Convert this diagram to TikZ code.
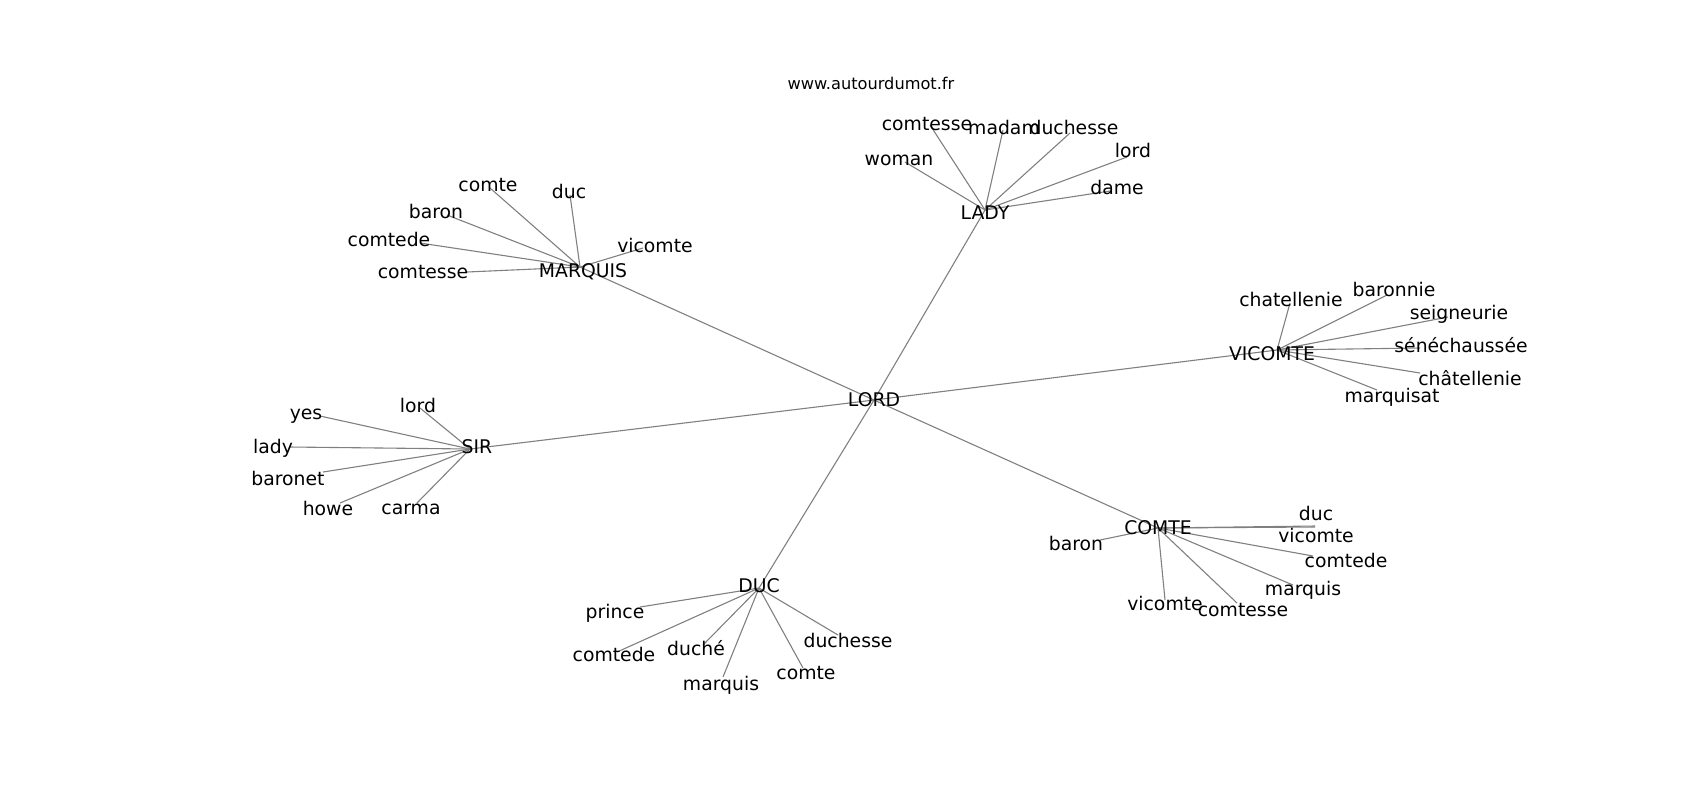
\documentclass[tikz,border=0pt]{standalone}
\usepackage{fontspec}
\setmainfont{DejaVu Sans}
\usetikzlibrary{backgrounds}
\tikzstyle{tree}=[x=0.5pt, y=-0.5pt]
\tikzstyle{nd}=[inner sep=0pt, outer sep=0pt, minimum size=0pt]
\tikzstyle{word}=[inner sep=0pt, font=\fontsize{9.4}{11}\selectfont]
\tikzstyle{edge}=[draw=black!50, line width=0.55pt]

\begin{document}
\begin{tikzpicture}[tree]
	\useasboundingbox (0,0) rectangle (1700,800);
	\draw (871,83) node[word, font=\fontsize{8.1}{10}\selectfont] (site) {www.autourdumot.fr};
	% hubs
	\draw (874,400) node[nd, label={[word]center:LORD}] (lord) {};
	\draw (985,210) node[nd, label={[word, shift={(0pt,-1.5pt)}]center:LADY}] (lady) {};
	\draw (580,267) node[nd, label={[word, shift={(1.5pt,-2.5pt)}]center:MARQUIS}] (marquis) {};
	\draw (1277,350) node[nd, label={[word, shift={(-2.5pt,-2pt)}]center:VICOMTE}] (vicomte) {};
	\draw (470,449) node[nd, label={[word, shift={(3.5pt,1pt)}]center:SIR}] (sir) {};
	\draw (1158,528) node[nd, label={[word]center:COMTE}] (comte) {};
	\draw (759,588) node[nd, label={[word, shift={(0pt,1pt)}]center:DUC}] (duc) {};
	% LADY
	\draw (905,162) node[nd, label={[word, shift={(-3pt,1pt)}]center:woman}] (la1) {};
	\draw (930,125) node[nd, label={[word, shift={(-1.5pt,0.5pt)}]center:comtesse}] (la2) {};
	\draw (1003,130) node[nd, label={[word, shift={(0.5pt,1.5pt)}]center:madam}] (la3) {};
	\draw (1070,133) node[nd, label={[word, shift={(2pt,3pt)}]center:duchesse}] (la4) {};
	\draw (1127,157) node[nd, label={[word, shift={(3pt,3.5pt)}]center:lord}] (la5) {};
	\draw (1110,191) node[nd, label={[word, shift={(3.5pt,2pt)}]center:dame}] (la6) {};
	% MARQUIS
	\draw (490,188) node[nd, label={[word, shift={(-1pt,1.5pt)}]center:comte}] (ma1) {};
	\draw (570,195) node[nd, label={[word, shift={(-0.5pt,2pt)}]center:duc}] (ma2) {};
	\draw (447,215) node[nd, label={[word, shift={(-5.5pt,2pt)}]center:baron}] (ma3) {};
	\draw (420,243) node[nd, label={[word, shift={(-15.5pt,2pt)}]center:comtede}] (ma4) {};
	\draw (467,272) node[nd, label={[word, shift={(-22pt,0pt)}]center:comtesse}] (ma5) {};
	\draw (643,248) node[nd, label={[word, shift={(6pt,1.5pt)}]center:vicomte}] (ma6) {};
	% VICOMTE
	\draw (1290,303) node[nd, label={[word, shift={(0.5pt,2pt)}]center:chatellenie}] (vi1) {};
	\draw (1387,295) node[nd, label={[word, shift={(3.5pt,3pt)}]center:baronnie}] (vi2) {};
	\draw (1448,317) node[nd, label={[word, shift={(5.5pt,1.5pt)}]center:seigneurie}] (vi3) {};
	\draw (1420,348) node[nd, label={[word, shift={(20.5pt,1.5pt)}]center:sénéchaussée}] (vi4) {};
	\draw (1420,373) node[nd, label={[word, shift={(25pt,-2.5pt)}]center:châtellenie}] (vi5) {};
	\draw (1377,390) node[nd, label={[word, shift={(7.5pt,-3.5pt)}]center:marquisat}] (vi6) {};
	% SIR
	\draw (420,408) node[nd, label={[word, shift={(-1pt,1.5pt)}]center:lord}] (si1) {};
	\draw (320,416) node[nd, label={[word, shift={(-7pt,0pt)}]center:yes}] (si2) {};
	\draw (290,447) node[nd, label={[word, shift={(-8.5pt,-0.5pt)}]center:lady}] (si3) {};
	\draw (323,472) node[nd, label={[word, shift={(-17.5pt,-3pt)}]center:baronet}] (si4) {};
	\draw (340,503) node[nd, label={[word, shift={(-6pt,-2.5pt)}]center:howe}] (si5) {};
	\draw (417,503) node[nd, label={[word, shift={(-3pt,-3pt)}]center:carma}] (si6) {};
	% COMTE
	\draw (1100,540) node[nd, label={[word, shift={(-12pt,-1.5pt)}]center:baron}] (co1) {};
	\draw (1315,526) node[nd, label={[word, shift={(0.5pt,6.5pt)}]center:duc}] (co2) {};
	\draw (1315,527) node[nd, label={[word, shift={(0.5pt,-4pt)}]center:vicomte}] (co3) {};
	\draw (1313,556) node[nd, label={[word, shift={(16.5pt,-2pt)}]center:comtede}] (co4) {};
	\draw (1293,585) node[nd, label={[word, shift={(5pt,-2.5pt)}]center:marquis}] (co5) {};
	\draw (1237,603) node[nd, label={[word, shift={(3pt,-3.5pt)}]center:comtesse}] (co6) {};
	\draw (1165,600) node[nd, label={[word, shift={(0pt,-1.5pt)}]center:vicomte}] (co7) {};
	% DUC
	\draw (640,607) node[nd, label={[word, shift={(-12.5pt,-3pt)}]center:prince}] (du1) {};
	\draw (617,652) node[nd, label={[word, shift={(-1.5pt,-1pt)}]center:comtede}] (du2) {};
	\draw (703,645) node[nd, label={[word, shift={(-3.5pt,-1.5pt)}]center:duché}] (du3) {};
	\draw (723,677) node[nd, label={[word, shift={(-1pt,-4pt)}]center:marquis}] (du4) {};
	\draw (803,668) node[nd, label={[word, shift={(1.5pt,-2.5pt)}]center:comte}] (du5) {};
	\draw (838,635) node[nd, label={[word, shift={(5pt,-2.5pt)}]center:duchesse}] (du6) {};
	\begin{scope}[on background layer]
		\foreach \h in {lady, marquis, vicomte, sir, comte, duc}
			\draw[edge] (lord) -- (\h);
		\foreach \i in {1,...,6} {
			\draw[edge] (lady) -- (la\i);
			\draw[edge] (marquis) -- (ma\i);
			\draw[edge] (vicomte) -- (vi\i);
			\draw[edge] (sir) -- (si\i);
			\draw[edge] (duc) -- (du\i);
		}
		\foreach \i in {1,...,7}
			\draw[edge] (comte) -- (co\i);
	\end{scope}
\end{tikzpicture}
\end{document}
